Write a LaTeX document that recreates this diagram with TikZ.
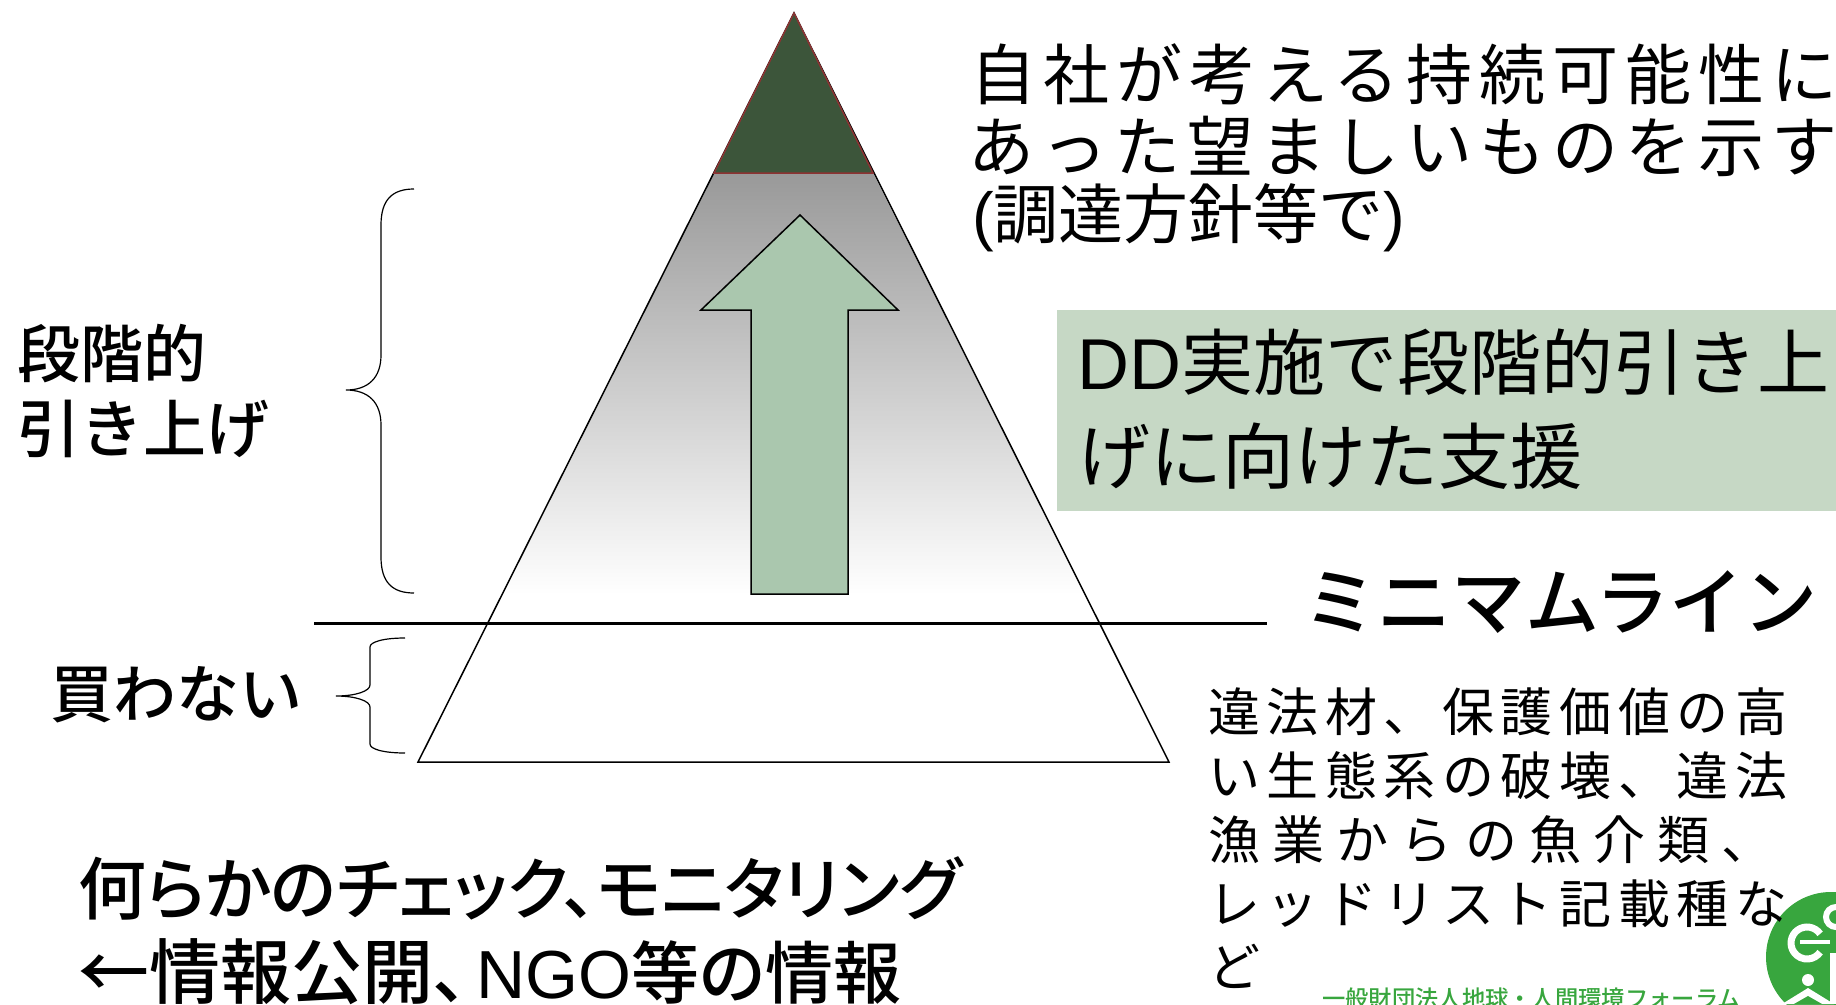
\documentclass[tikz,border=0pt]{standalone}
\usepackage{fontspec}
\setmainfont{Liberation Sans}
\newfontfamily\jpfont[UprightFont={* Medium}]{Noto Sans CJK JP}
\newfontfamily\jpthin{Noto Sans CJK JP}
\newfontfamily\jpprop[UprightFont={* Medium}, RawFeature={+palt}]{Noto Sans CJK JP}
\newfontfamily\jpwide[LetterSpace=10.6]{Noto Sans CJK JP}
\newfontfamily\jpban[LetterSpace=12.6]{Noto Sans CJK JP}
\newfontfamily\jpbanx[LetterSpace=23.5]{Noto Sans CJK JP}
\usetikzlibrary{calc, shapes, patterns}
\definecolor{topgreen}{RGB}{60,85,58}
\definecolor{toprim}{RGB}{140,50,50}
\definecolor{arrowgreen}{RGB}{170,199,174}
\definecolor{boxgreen}{RGB}{198,216,197}
\definecolor{logogreen}{RGB}{56,166,62}
\tikzset{
	txt/.style={anchor=west, inner sep=0pt, text=black},
	brc/.style={draw=black, line width=1.2pt},
	sidetxt/.style={txt, font=\jpfont\fontsize{63}{63}\selectfont},
	goaltxt/.style={txt, font=\jpwide\fontsize{66}{66}\selectfont},
	ddtxt/.style={txt, font=\fontsize{72}{72}\selectfont},
	bantxt/.style={txt, font=\jpban\fontsize{52}{52}\selectfont},
	checktxt/.style={txt, font=\fontsize{68}{68}\selectfont},
}
\begin{document}
\begin{tikzpicture}[x=1pt, y=-1pt]
	\useasboundingbox (0, 0) rectangle (1836, 1004);
	\clip (0, 0) rectangle (1836, 1004);
	% pyramid
	\coordinate (Apex) at (794, 13);
	\coordinate (BaseL) at (418, 762);
	\coordinate (BaseR) at (1169, 762);
	\coordinate (TopL) at (714, 173);
	\coordinate (TopR) at (873, 173);
	\begin{scope}
		\clip (TopL) -- (TopR) -- (BaseR) -- (BaseL) -- cycle;
		\shade[top color=black!40, bottom color=white]
			(400, 173) rectangle (1180, 595);
	\end{scope}
	\draw[black, line width=1.5pt] (Apex) -- (BaseR) -- (BaseL) -- cycle;
	\draw[toprim, fill=topgreen, line width=1.5pt] (Apex) -- (TopR) -- (TopL) -- cycle;
	% arrow
	\draw[black, fill=arrowgreen, line width=1.5pt, miter limit=10]
		(800, 215) -- (898, 310) -- (848, 310) -- (848, 594)
		-- (751, 594) -- (751, 310) -- (701, 310) -- cycle;
	% minimum line
	\coordinate (LineL) at (314, 623);
	\coordinate (LineR) at (1267, 623);
	\draw[black, line width=3pt] (LineL) -- (LineR);
	% braces
	\draw[brc] (414, 189) .. controls (392, 189) and (381, 200) .. (381, 225)
		-- (381, 355) .. controls (381, 378) and (368, 390) .. (346, 390)
		.. controls (368, 390) and (381, 402) .. (381, 425)
		-- (381, 557) .. controls (381, 582) and (392, 593) .. (414, 593);
	\draw[brc] (405, 638) .. controls (383, 638) and (370, 642) .. (370, 647)
		-- (370, 685) .. controls (370, 691) and (356, 696) .. (336, 696)
		.. controls (356, 696) and (370, 701) .. (370, 707)
		-- (370, 744) .. controls (370, 749) and (383, 753) .. (405, 753);
	% green box
	\fill[boxgreen] (1057, 310) rectangle (1836, 511);
	% logo
	\fill[logogreen] (1831, 957) circle (65);
	\draw[white, line width=7pt] (1807, 943) ++(-35:16) arc (-35:-325:16);
	\draw[white, line width=4pt] (1800, 942) -- (1830, 942);
	\draw[white, line width=6pt] (1836, 917) circle (10);
	\fill[white] (1830, 953) rectangle (1836, 1004);
	\fill[white] (1808, 980) circle (6);
	\fill[white] (1808, 988) -- (1834, 1004) -- (1782, 1004) -- cycle;
	\fill[logogreen] (1808, 996) -- (1822, 1004) -- (1794, 1004) -- cycle;
	% labels
	\node[sidetxt] (lift1) at (17, 354) {段階的};
	\node[sidetxt] (lift2) at (17, 429) {引き上げ};
	\node[sidetxt] (nobuy) at (50, 695) {買わない};
	\node[goaltxt] (goal1) at (970, 74) {自社が考える持続可能性に};
	\node[goaltxt] (goal2) at (968, 146) {あった望ましいものを示す};
	\node[txt, font=\fontsize{65}{65}\selectfont] (goal3) at (972, 218) {({\jpthin 調達方針等で})};
	\node[ddtxt] (dd1) at (1077, 362) {DD{\jpthin 実施で段階的引き上}};
	\node[ddtxt, font=\jpthin\fontsize{72}{72}\selectfont] (dd2) at (1078, 456) {げに向けた支援};
	\node[txt, font=\jpfont\fontsize{74}{74}\selectfont] (minline) at (1303, 602) {ミニマムライン};
	\node[bantxt] (ban1) at (1208, 712) {違法材、保護価値の高};
	\node[bantxt] (ban2) at (1208, 776) {い生態系の破壊、違法};
	\node[bantxt, font=\jpbanx\fontsize{52}{52}\selectfont] (ban3) at (1208, 840) {漁業からの魚介類、};
	\node[bantxt] (ban4) at (1208, 904) {レッドリスト記載種な};
	\node[bantxt] (ban5) at (1208, 966) {ど};
	\node[checktxt, font=\jpprop\fontsize{68}{68}\selectfont] (check1) at (78, 888) {何らかのチェック、モニタリング};
	\node[checktxt] (check2) at (78, 972) {{\jpprop\fontsize{71}{71}\selectfont ←情報公開、}\hspace{8pt}NGO{\jpprop 等の情報}};
	\node[txt, font=\jpfont\fontsize{23.3}{24}\selectfont, text=logogreen] (org) at (1322, 999) {一般財団法人地球・人間環境フォーラム};
\end{tikzpicture}
\end{document}
